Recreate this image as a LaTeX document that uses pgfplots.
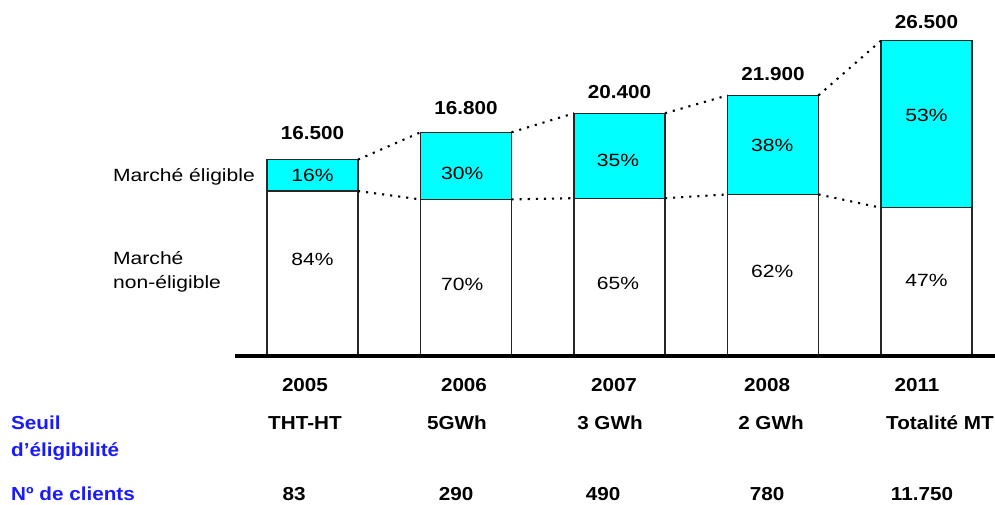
\documentclass[border=0pt]{standalone}
\usepackage{pgfplots}
\pgfplotsset{compat=1.18}
\usepackage{fontspec}
\setmainfont[FakeStretch=1.19]{Liberation Sans}
\newfontfamily\bfnt[FakeStretch=1.1]{Liberation Sans}
\definecolor{elig}{RGB}{0,255,255}
\definecolor{lblue}{RGB}{26,26,255}
\newcommand\rg{\fontsize{17.7bp}{21bp}\selectfont}
\newcommand\bd{\bfnt\bfseries\fontsize{18.8bp}{22bp}\selectfont}
\begin{document}
\begin{tikzpicture}
\useasboundingbox (0,0) rectangle (995bp,505bp);
\begin{axis}[at={(235bp,149bp)}, anchor=south west, scale only axis,
  width=760bp, height=356bp,
  xmin=-0.5049, xmax=4.4463, ymin=0, ymax=29916,
  axis x line*=bottom, axis y line=none,
  x axis line style={line width=4bp,-},
  xtick=\empty, ytick=\empty, clip=false, axis on top=true]
% total (eligible on top) and non-eligible part
\addplot[ybar, bar width=91bp, bar shift=0pt, fill=elig, draw=black!85, line width=1.3bp]
  coordinates {(0,16500) (1,18800) (2,20400) (3,21900) (4,26500)};
\addplot[ybar, bar width=91bp, bar shift=0pt, fill=white, draw=black!85, line width=1.3bp]
  coordinates {(0,13860) (1,13160) (2,13260) (3,13578) (4,12455)};
% dotted connectors
\pgfplotsset{dotc/.style={black, line width=2.1bp, dash pattern=on 2.1bp off 6bp}}
\addplot[dotc] coordinates {(0.2964,16500) (0.7036,18800)};
\addplot[dotc] coordinates {(1.2964,18800) (1.7036,20400)};
\addplot[dotc] coordinates {(2.2964,20400) (2.7036,21900)};
\addplot[dotc] coordinates {(3.2964,21900) (3.7036,26500)};
\addplot[dotc] coordinates {(0.2964,13860) (0.7036,13160)};
\addplot[dotc] coordinates {(1.2964,13160) (1.7036,13260)};
\addplot[dotc] coordinates {(2.2964,13260) (2.7036,13578)};
\addplot[dotc] coordinates {(3.2964,13578) (3.7036,12455)};
% percentages
\begin{scope}[every node/.style={anchor=base, inner sep=0pt, font=\rg}]
\node at (axis cs:0,14672) {16\%};
\node at (axis cs:0,7613) {84\%};
\node at (axis cs:0.975,14840) {30\%};
\node at (axis cs:0.975,5513) {70\%};
\node at (axis cs:1.99,15933) {35\%};
\node at (axis cs:1.99,5597) {65\%};
\node at (axis cs:2.995,17193) {38\%};
\node at (axis cs:2.995,6605) {62\%};
\node at (axis cs:4,19714) {53\%};
\node at (axis cs:4,5849) {47\%};
\end{scope}
% totals
\begin{scope}[every node/.style={anchor=base, inner sep=0pt, font=\bd}]
\node at (axis cs:0,18176) {16.500};
\node at (axis cs:1,20277) {16.800};
\node at (axis cs:2,21622) {20.400};
\node at (axis cs:3,23134) {21.900};
\node at (axis cs:4,27504) {26.500};
\end{scope}
\end{axis}
% left labels
\node[anchor=base east, inner sep=0pt, font=\rg] at (255bp,323.6bp) {Marché éligible};
\node[anchor=base west, inner sep=0pt, font=\rg] at (113bp,240.6bp) {Marché};
\node[anchor=base west, inner sep=0pt, font=\rg] at (113bp,216.7bp) {non-éligible};
% bottom table
\begin{scope}[every node/.style={anchor=base, inner sep=0pt, font=\bd}]
\node at (305bp,113.3bp) {2005};
\node at (464bp,113.3bp) {2006};
\node at (614bp,113.3bp) {2007};
\node at (767bp,113.3bp) {2008};
\node at (917bp,113.3bp) {2011};
\node at (305bp,75bp) {THT-HT};
\node at (457bp,75bp) {5GWh};
\node at (610bp,75bp) {3 GWh};
\node at (771bp,75bp) {2 GWh};
\node at (940bp,75bp) {Totalité MT};
\node at (294bp,5bp) {83};
\node at (456bp,5bp) {290};
\node at (603bp,5bp) {490};
\node at (767bp,5bp) {780};
\node at (922bp,5bp) {11.750};
\end{scope}
\begin{scope}[every node/.style={anchor=base west, inner sep=0pt, font=\bd, text=lblue}]
\node at (11bp,75bp) {Seuil};
\node at (11bp,48bp) {d’éligibilité};
\node at (11bp,5bp) {Nº de clients};
\end{scope}
\end{tikzpicture}
\end{document}
